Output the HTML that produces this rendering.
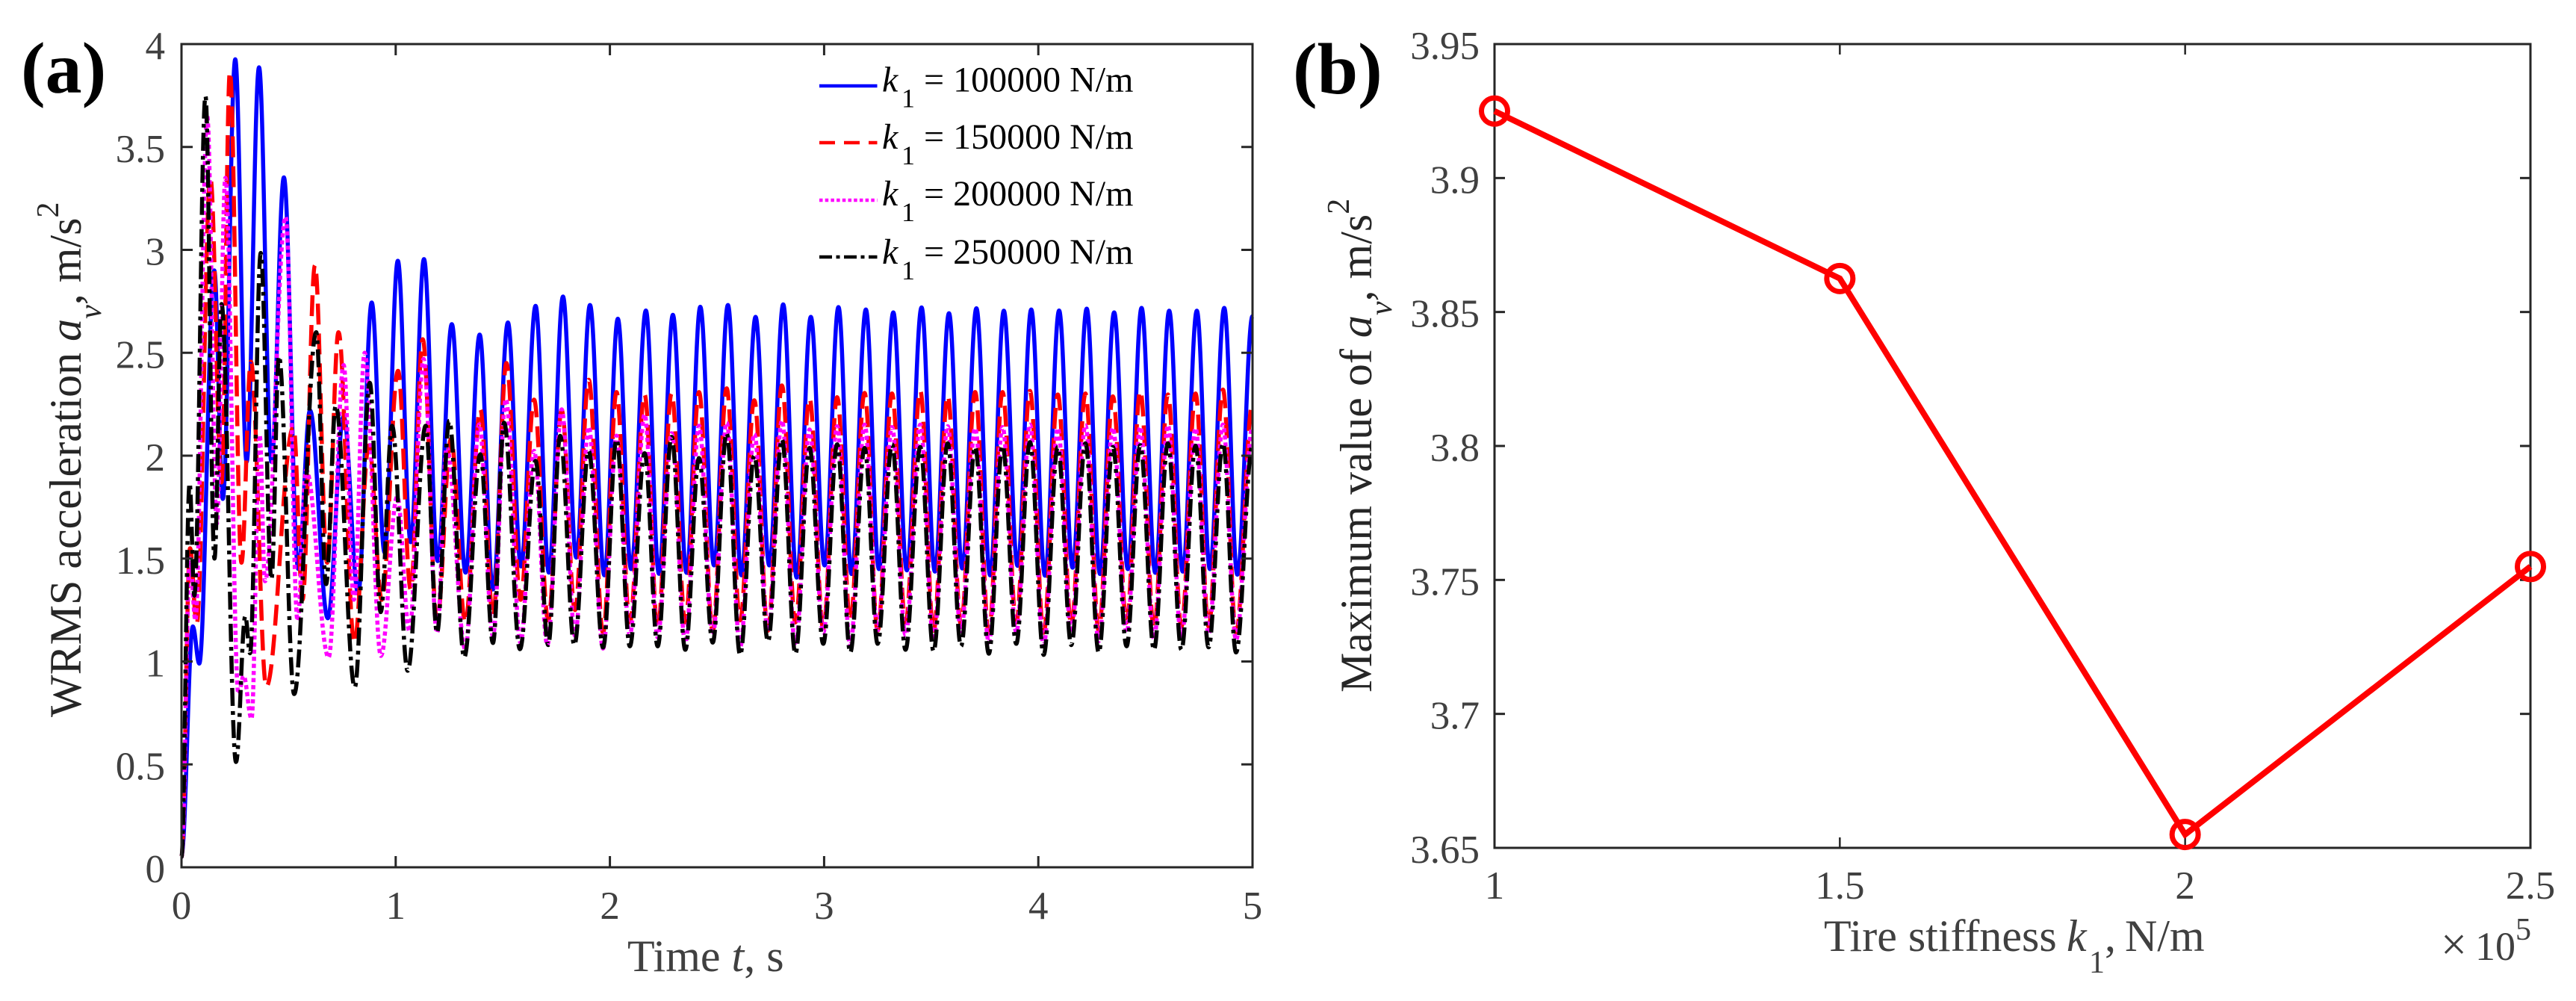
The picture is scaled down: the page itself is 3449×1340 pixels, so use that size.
<!DOCTYPE html>
<html>
<head>
<meta charset="utf-8">
<title>WRMS acceleration charts</title>
<style>
html,body{margin:0;padding:0;background:#fff;}
svg{display:block;font-family:"Liberation Serif","Times New Roman",serif;}
</style>
</head>
<body>
<svg id="fig" xmlns="http://www.w3.org/2000/svg" width="3449" height="1340" viewBox="0 0 3449 1340">
  <rect x="0" y="0" width="3449" height="1340" fill="#fff"/>
  <g id="series-a"></g>
  <g id="axes-a"></g>
  <g id="axes-b"></g>
  <g id="series-b"></g>

  <text x="28" y="124" font-size="98" font-weight="bold" fill="#000">(a)</text>
  <text x="1731" y="125" font-size="98" font-weight="bold" fill="#000">(b)</text>

  <text x="840" y="1300" font-size="60" fill="#404040">Time <tspan font-style="italic">t</tspan>, s</text>
  <text transform="translate(108,960) rotate(-90)" font-size="60" fill="#262626">WRMS acceleration <tspan font-style="italic">a</tspan><tspan font-style="italic" font-size="42" dy="27">v</tspan><tspan dy="-27">, m/s</tspan><tspan font-size="42" dy="-30">2</tspan></text>

  <text x="2442" y="1273" font-size="60" fill="#404040">Tire stiffness <tspan font-style="italic" x="2767">k</tspan><tspan font-size="42" x="2797" dy="29">1</tspan><tspan x="2818" dy="-29">,</tspan><tspan x="2845">N/m</tspan></text>
  <text transform="translate(1836,927) rotate(-90)" font-size="60" fill="#262626">Maximum value of <tspan font-style="italic">a</tspan><tspan font-style="italic" font-size="42" dy="27">v</tspan><tspan dy="-27">, m/s</tspan><tspan font-size="42" dy="-30">2</tspan></text>
  <text y="1285" font-size="54" fill="#404040"><tspan x="3268" font-size="62">×</tspan><tspan x="3314">10</tspan><tspan font-size="42" x="3368" dy="-27">5</tspan></text>

  <g font-size="48" fill="#000">
    <g>
      <line x1="1097" x2="1174.5" y1="115" y2="115" stroke="#0000ff" stroke-width="4.5"/>
      <text x="1181" y="122.5"><tspan font-style="italic">k</tspan><tspan font-size="36" x="1207" dy="21">1</tspan><tspan x="1237" dy="-21">= 100000 N/m</tspan></text>
    </g>
    <g>
      <line x1="1097" x2="1174.5" y1="191" y2="191" stroke="#ff0000" stroke-width="4.5" stroke-dasharray="21 12"/>
      <text x="1181" y="199"><tspan font-style="italic">k</tspan><tspan font-size="36" x="1207" dy="21">1</tspan><tspan x="1237" dy="-21">= 150000 N/m</tspan></text>
    </g>
    <g>
      <line x1="1097" x2="1174.5" y1="268" y2="268" stroke="#ff00ff" stroke-width="4.5" stroke-dasharray="4.5 3.2"/>
      <text x="1181" y="275"><tspan font-style="italic">k</tspan><tspan font-size="36" x="1207" dy="21">1</tspan><tspan x="1237" dy="-21">= 200000 N/m</tspan></text>
    </g>
    <g>
      <line x1="1097" x2="1174.5" y1="344" y2="344" stroke="#000" stroke-width="4.5" stroke-dasharray="17 5.5 5 5.5"/>
      <text x="1181" y="353"><tspan font-style="italic">k</tspan><tspan font-size="36" x="1207" dy="21">1</tspan><tspan x="1237" dy="-21">= 250000 N/m</tspan></text>
    </g>
  </g>
</svg>
<script>
// ---------- Panel (a) data: time / value at successive extrema ----------
const xTicksA = [0, 1, 2, 3, 4, 5];
const yTicksA = [0, 0.5, 1, 1.5, 2, 2.5, 3, 3.5, 4];
const yTickLabelsA = ['0', '0.5', '1', '1.5', '2', '2.5', '3', '3.5', '4'];

const blueT = [0,.053,.083,.153,.193,.251,.304,.362,.42,.478,.545,.6,.683,.757,.825,.888,.948,1.01,1.07,1.132,1.196,1.262,1.326,1.392,1.454,1.524,1.585,1.653,1.715,1.781,1.843,
  1.907,1.974,2.037,2.099,2.168,2.229,2.294,2.358,2.422,2.486,2.551,2.614,2.680,2.744,2.809,2.872,2.938,3.002,3.067,3.128,3.195,3.256,3.323,3.386,
  3.455,3.517,3.583,3.645,3.711,3.775,3.839,3.903,3.967,4.031,4.097,4.160,4.226,4.288,4.354,4.418,4.482,4.546,4.611,4.674,4.740,4.801,4.868,4.929,5];
const blueV = [.06,1.17,.99,2.9,1.79,3.926,1.97,3.887,1.97,3.352,1.45,2.22,1.21,2.19,1.33,2.744,1.53,2.947,1.58,2.955,1.488,2.639,1.432,2.588,1.35,2.647,1.462,2.728,1.432,2.773,1.505,
  2.732,1.419,2.665,1.449,2.705,1.426,2.684,1.431,2.723,1.467,2.732,1.419,2.674,1.467,2.735,1.408,2.674,1.467,2.722,1.425,2.710,1.449,2.696,1.443,
  2.720,1.437,2.692,1.452,2.716,1.419,2.704,1.465,2.710,1.417,2.705,1.456,2.714,1.425,2.696,1.449,2.718,1.431,2.704,1.437,2.704,1.449,2.718,1.422,2.678];

const lateT = [1.901,1.968,2.031,2.093,2.162,2.223,2.288,2.352,2.416,2.480,2.545,2.608,2.674,2.738,2.803,2.866,2.932,2.996,3.061,3.122,3.189,3.250,3.317,3.380,
  3.449,3.511,3.577,3.639,3.705,3.769,3.833,3.897,3.961,4.025,4.091,4.154,4.220,4.282,4.348,4.412,4.476,4.540,4.605,4.668,4.734,4.795,4.862,4.923,5];

const redEarlyT = [0,.04,.071,.135,.187,.226,.28,.324,.396,.523,.565,.623,.68,.733,.807,.875,.935,1.011,1.07,1.126,1.193,1.258,1.325,1.395,1.454,1.517,1.583,1.646,1.712,1.775,1.837];
const redEarlyV = [.05,1.55,1.18,3.35,1.87,3.866,1.48,2.457,.878,2.14,1.30,2.925,1.48,2.60,1.09,2.05,1.30,2.412,1.35,2.566,1.2,2.08,1.19,2.225,1.22,2.45,1.30,2.272,1.2,2.22,1.25];
const redLateV = [2.369,1.14,2.309,1.19,2.297,1.16,2.302,1.19,2.309,1.15,2.327,1.20,2.269,1.15,2.341,1.19,2.278,1.16,2.284,1.20,2.305,1.15,2.302,1.19,
  2.315,1.15,2.291,1.18,2.309,1.14,2.309,1.19,2.315,1.14,2.297,1.18,2.302,1.15,2.288,1.19,2.315,1.16,2.297,1.17,2.302,1.17,2.321,1.14,2.254];

const magentaEarlyT = [0,.04,.065,.12,.165,.205,.266,.29,.327,.365,.39,.486,.542,.582,.687,.757,.805,.855,.931,1.007,1.064,1.13,1.193,1.238,1.325,1.39,1.454,1.514,1.583,1.646,1.708,1.775,1.837];
const magentaEarlyV = [.05,1.5,1.2,3.65,1.67,3.35,.842,.93,.722,2.1,1.39,3.16,1.198,1.93,1.02,2.44,1.3,2.5,1.027,1.8,1.147,2.47,1.14,2.04,1.06,2.152,1.125,2.274,1.09,2.023,1.08,2.225,1.125];
const magentaLateV = [2.139,1.063,2.097,1.129,2.200,1.117,2.109,1.092,2.145,1.129,2.160,1.068,2.105,1.147,2.170,1.074,2.127,1.140,2.143,1.080,2.151,1.153,2.139,1.129,
  2.151,1.105,2.143,1.147,2.133,1.093,2.139,1.141,2.151,1.081,2.133,1.141,2.147,1.099,2.135,1.141,2.139,1.111,2.147,1.111,2.133,1.135,2.151,1.105,2.139];

const blackEarlyT = [0,.038,.06,.112,.154,.187,.2545,.298,.32,.37,.42,.455,.526,.629,.675,.72,.809,.879,.93,.983,1.056,1.14,1.193,1.25,1.32,1.395,1.454,1.506,1.58,1.653,1.712,1.768,1.834];
const blackEarlyV = [.05,1.866,1.32,3.747,1.50,2.737,.512,1.22,1.04,2.985,1.40,2.483,.842,2.60,1.376,2.243,.875,2.354,1.24,2.145,.955,2.145,1.14,2.169,1.02,2.007,1.09,2.16,1.06,1.975,1.08,2.096,1.08];
const blackLateV = [2.024,1.068,2.079,1.074,2.012,1.074,2.091,1.057,1.988,1.092,2.109,1.032,2.000,1.098,2.079,1.038,2.037,1.086,2.055,1.044,2.037,1.086,2.055,1.057,
  2.042,1.050,2.060,1.074,2.042,1.038,2.048,1.086,2.066,1.032,2.042,1.080,2.060,1.044,2.042,1.074,2.051,1.057,2.060,1.057,2.048,1.069,2.060,1.044,2.05];

// ---------- Panel (b) data ----------
const stiffness = [1, 1.5, 2, 2.5];
const maxAccel = [3.925, 3.8625, 3.655, 3.755];
const xTicksB = [1, 1.5, 2, 2.5];
const xTickLabelsB = ['1', '1.5', '2', '2.5'];
const yTicksB = [3.65, 3.7, 3.75, 3.8, 3.85, 3.9, 3.95];
const yTickLabelsB = ['3.65', '3.7', '3.75', '3.8', '3.85', '3.9', '3.95'];

const NS = 'http://www.w3.org/2000/svg';
const A = {l: 243, r: 1677, t: 59, b: 1161};
const B = {l: 2001, r: 3388, t: 59, b: 1135};
const xA = t => A.l + (t - 0) / 5 * (A.r - A.l);
const yA = v => A.b - (v - 0) / 4 * (A.b - A.t);
const xB = k => B.l + (k - 1) / 1.5 * (B.r - B.l);
const yB = v => B.b - (v - 3.65) / 0.3 * (B.b - B.t);

function smoothPath(ts, vs) {
  let d = 'M' + xA(ts[0]).toFixed(2) + ' ' + yA(vs[0]).toFixed(2);
  for (let i = 1; i < ts.length; i++) {
    const x0 = xA(ts[i - 1]), x1 = xA(ts[i]), y0 = yA(vs[i - 1]), y1 = yA(vs[i]);
    const c = (x1 - x0) * 0.37;
    d += 'C' + (x0 + c).toFixed(2) + ' ' + y0.toFixed(2) + ' ' + (x1 - c).toFixed(2) + ' ' + y1.toFixed(2) + ' ' + x1.toFixed(2) + ' ' + y1.toFixed(2);
  }
  return d;
}

const seriesA = document.getElementById('series-a');
const axesA = document.getElementById('axes-a');
const axesB = document.getElementById('axes-b');
const seriesB = document.getElementById('series-b');

function addSeries(name, ts, vs, color, dash) {
  const p = document.createElementNS(NS, 'path');
  
  
  p.setAttribute('d', smoothPath(ts, vs));
  p.setAttribute('fill', 'none');
  p.setAttribute('stroke', color);
  p.setAttribute('stroke-width', '5.5');
  p.setAttribute('stroke-linejoin', 'round');
  if (dash) p.setAttribute('stroke-dasharray', dash);
  seriesA.appendChild(p);
}
addSeries('series-k1-100000', blueT, blueV, '#0000ff', '');
addSeries('series-k1-150000', redEarlyT.concat(lateT), redEarlyV.concat(redLateV), '#ff0000', '28 12');
addSeries('series-k1-200000', magentaEarlyT.concat(lateT), magentaEarlyV.concat(magentaLateV), '#ff00ff', '5.5 4');
addSeries('series-k1-250000', blackEarlyT.concat(lateT), blackEarlyV.concat(blackLateV), '#000000', '24 7 5 7');

function addLine(parent, x1, y1, x2, y2, w) {
  const l = document.createElementNS(NS, 'line');
  
  
  l.setAttribute('x1', x1);
  l.setAttribute('y1', y1);
  l.setAttribute('x2', x2);
  l.setAttribute('y2', y2);
  l.setAttribute('stroke', '#262626');
  l.setAttribute('stroke-width', w);
  parent.appendChild(l);
}
function addLabel(parent, x, y, str, anchor) {
  const t = document.createElementNS(NS, 'text');
  
  
  t.setAttribute('x', x);
  t.setAttribute('y', y);
  t.setAttribute('font-size', '53');
  t.setAttribute('fill', '#404040');
  t.setAttribute('text-anchor', anchor);
  t.textContent = str;
  parent.appendChild(t);
}
function addFrame(parent, box, w) {
  const r = document.createElementNS(NS, 'rect');
  
  
  r.setAttribute('x', box.l);
  r.setAttribute('y', box.t);
  r.setAttribute('width', box.r - box.l);
  r.setAttribute('height', box.b - box.t);
  r.setAttribute('fill', 'none');
  r.setAttribute('stroke', '#262626');
  r.setAttribute('stroke-width', w);
  parent.appendChild(r);
}

// Panel (a) axes
addFrame(axesA, A, 3);
xTicksA.forEach(v => {
  const x = xA(v);
  addLine(axesA, x, A.b, x, A.b - 15, 3);
  addLine(axesA, x, A.t, x, A.t + 15, 3);
  addLabel(axesA, x, A.b + 69, String(v), 'middle');
});
yTicksA.forEach((v, i) => {
  const y = yA(v);
  addLine(axesA, A.l, y, A.l + 15, y, 3);
  addLine(axesA, A.r, y, A.r - 15, y, 3);
  addLabel(axesA, 221, y + 20, yTickLabelsA[i], 'end');
});

// Panel (b) axes
addFrame(axesB, B, 3);
xTicksB.forEach((v, i) => {
  const x = xB(v);
  addLine(axesB, x, B.b, x, B.b - 14, 2.5);
  addLine(axesB, x, B.t, x, B.t + 14, 2.5);
  addLabel(axesB, x, B.b + 68, xTickLabelsB[i], 'middle');
});
yTicksB.forEach((v, i) => {
  const y = yB(v);
  addLine(axesB, B.l, y, B.l + 14, y, 3);
  addLine(axesB, B.r, y, B.r - 14, y, 3);
  addLabel(axesB, 1981, y + 20, yTickLabelsB[i], 'end');
});

// Panel (b) series
const poly = document.createElementNS(NS, 'polyline');


poly.setAttribute('points', stiffness.map((k, i) => xB(k).toFixed(2) + ',' + yB(maxAccel[i]).toFixed(2)).join(' '));
poly.setAttribute('fill', 'none');
poly.setAttribute('stroke', '#ff0000');
poly.setAttribute('stroke-width', '8');
poly.setAttribute('stroke-linejoin', 'miter');
seriesB.appendChild(poly);
stiffness.forEach((k, i) => {
  const c = document.createElementNS(NS, 'circle');
  
  
  c.setAttribute('cx', xB(k));
  c.setAttribute('cy', yB(maxAccel[i]));
  c.setAttribute('r', '17.5');
  c.setAttribute('fill', 'none');
  c.setAttribute('stroke', '#ff0000');
  c.setAttribute('stroke-width', '7');
  seriesB.appendChild(c);
});
</script>
</body>
</html>
